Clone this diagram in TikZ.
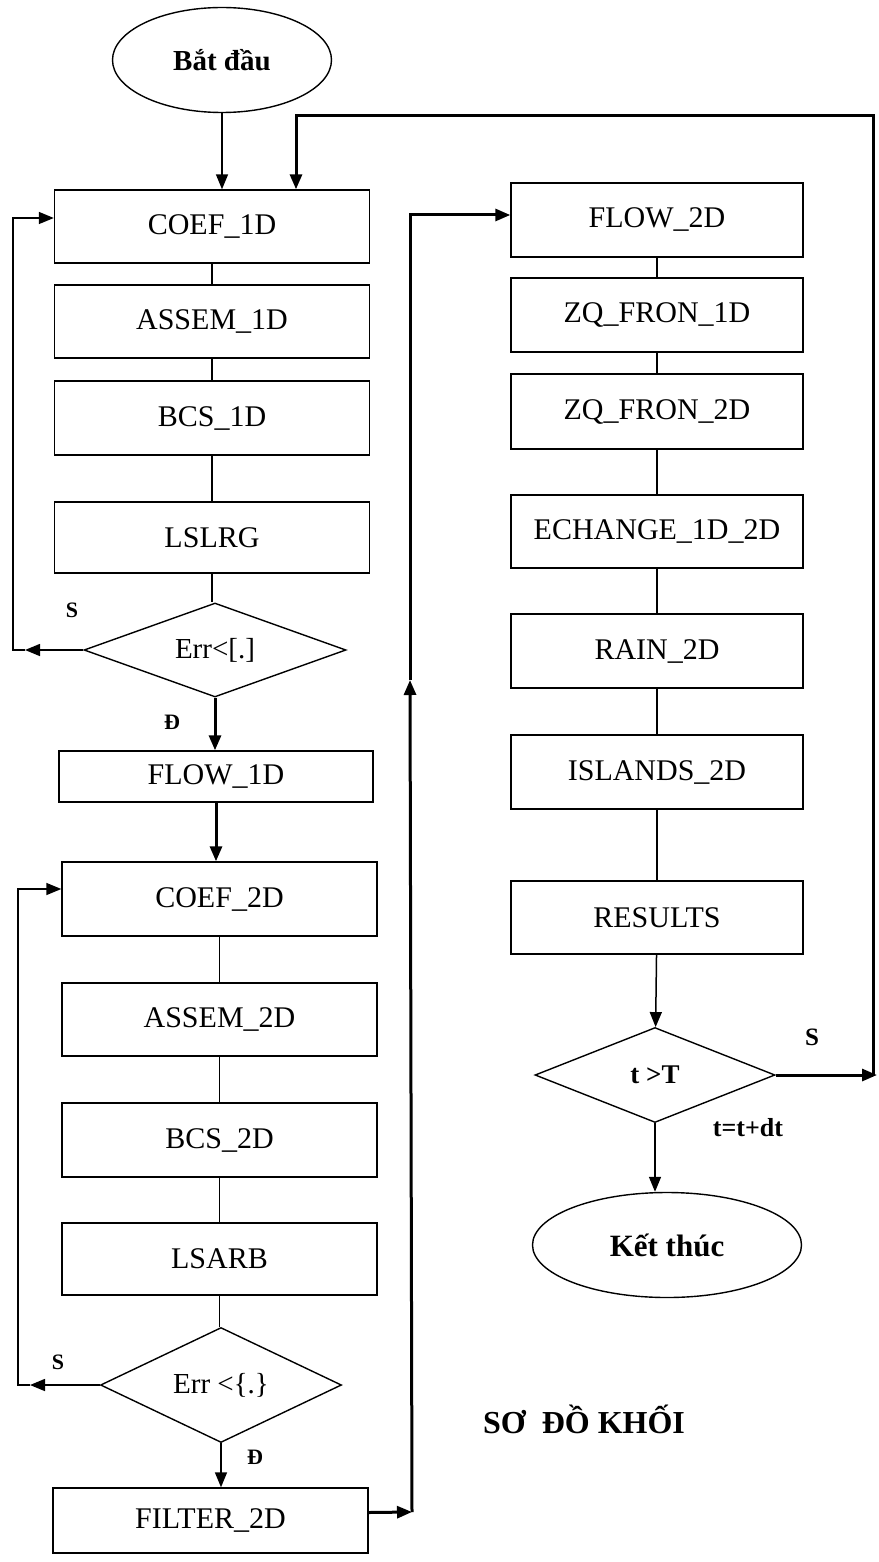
\documentclass[tikz,border=0pt]{standalone}
\usepackage{fontspec}
\setmainfont{Liberation Serif}
\usetikzlibrary{positioning,calc,shapes.geometric,arrows.meta}

\begin{document}
\begin{tikzpicture}[x=1pt,y=-1pt]
\tikzstyle{hop}=[draw,line width=1.4pt,minimum width=315pt,minimum height=73pt,inner sep=0pt,font=\fontsize{30}{36}\selectfont]
\tikzstyle{hopp}=[hop,minimum width=292pt]
\tikzstyle{thoi}=[draw,diamond,line width=1.4pt,inner sep=0pt,font=\fontsize{29}{34}\selectfont]
\tikzstyle{bd}=[draw,ellipse,line width=1.4pt,inner sep=0pt,font=\bfseries\fontsize{29}{34}\selectfont]
\tikzstyle{nhan}=[inner sep=0pt,font=\bfseries\fontsize{22}{26}\selectfont]
\tikzstyle{mui}=[-{Triangle[length=15pt,width=12pt]},line width=1.5pt]
\tikzstyle{muid}=[mui,line width=3pt]

   \useasboundingbox (0,0) rectangle (878,1562);

   % cot trai
   \path (222,60) node[bd,minimum width=219pt,minimum height=105pt] (batdau) {Bắt đầu}
    (212,226.5) node[hop] (coef1) {COEF\_1D}
    (212,321.5) node[hop] (assem1) {ASSEM\_1D}
    (212,418) node[hop,minimum height=74pt] (bcs1) {BCS\_1D}
    (212,537.5) node[hop,minimum height=71pt] (lslrg) {LSLRG}
    (215,650) node[thoi,aspect=2.8,minimum width=262pt,minimum height=94pt] (err1) {Err<[.]}
    (216,776.5) node[hop,minimum width=314pt,minimum height=51pt] (flow1) {FLOW\_1D}
    (219.5,899) node[hop,minimum height=74pt] (coef2) {COEF\_2D}
    (219.5,1019.5) node[hop] (assem2) {ASSEM\_2D}
    (219.5,1140) node[hop,minimum height=74pt] (bcs2) {BCS\_2D}
    (219.5,1259) node[hop,minimum height=72pt] (lsarb) {LSARB}
    (221,1385) node[thoi,aspect=2,minimum width=241pt,minimum height=115pt] (err2) {Err <\{.\}}
    (210.5,1520.5) node[hop,minimum height=65pt] (filter) {FILTER\_2D};

   % cot phai
   \path (657,220) node[hopp,minimum height=74pt] (flow2) {FLOW\_2D}
    (657,315) node[hopp,minimum height=74pt] (zq1) {ZQ\_FRON\_1D}
    (657,411.5) node[hopp,minimum height=75pt] (zq2) {ZQ\_FRON\_2D}
    (657,531.5) node[hopp] (echange) {ECHANGE\_1D\_2D}
    (657,651) node[hopp,minimum height=74pt] (rain) {RAIN\_2D}
    (657,772) node[hopp,minimum height=74pt] (islands) {ISLANDS\_2D}
    (657,917.5) node[hopp] (results) {RESULTS}
    (655,1075) node[thoi,aspect=2.5,minimum width=240pt,minimum height=95pt,font=\bfseries\fontsize{27}{32}\selectfont] (tT) {t >T}
    (667,1245) node[bd,minimum width=269pt,minimum height=105pt,font=\bfseries\fontsize{31}{36}\selectfont] (ketthuc) {Kết thúc};

   % nhan
   \node[nhan] (s1) at (72,610) {S};
   \node[nhan] (d1) at (172,722) {Đ};
   \node[nhan] (s2) at (58,1362) {S};
   \node[nhan] (d2) at (255,1457) {Đ};
   \node[nhan,font=\bfseries\fontsize{25}{30}\selectfont] (s3) at (812,1037) {S};
   \node[nhan,font=\bfseries\fontsize{26}{30}\selectfont] (dt) at (748,1128) {t=t+dt};
   \node[nhan,font=\bfseries\fontsize{32}{38}\selectfont] (tieude) at (584,1419) {SƠ\ \ ĐỒ KHỐI};

   % noi cac khoi
   \draw[line width=1.4pt] (coef1) -- (assem1) (assem1) -- (bcs1) (bcs1) -- (lslrg)
     (lslrg.south) -- (lslrg.south |- err1.north);
   \draw[line width=1.4pt] (coef2) -- (assem2) (assem2) -- (bcs2) (bcs2) -- (lsarb)
     (lsarb.south) -- (lsarb.south |- err2.north);
   \draw[line width=1.4pt] (flow2) -- (zq1) (zq1) -- (zq2) (zq2) -- (echange)
     (echange) -- (rain) (rain) -- (islands) (islands) -- (results);

   \draw[mui] (batdau) -- (batdau |- coef1.north);
   \draw[muid] (err1.south) -- (err1.south |- flow1.north);
   \draw[muid] (flow1.south) -- (flow1.south |- coef2.north);
   \draw[mui] (err2.south) -- (err2.south |- filter.north);
   \draw[mui] (results) -- (tT);
   \draw[mui] (tT.south) -- (tT.south |- ketthuc.north);

   % vong lap
   \coordinate (g1) at (13,650);
   \coordinate (g2) at (18,1385);
   \draw[mui] (err1.west) -- ([xshift=12pt]g1);
   \draw[mui] ([xshift=12pt]g1) -- (g1) |- ([yshift=8.5pt]coef1.west);
   \draw[mui] (err2.west) -- ([xshift=12pt]g2);
   \draw[mui] ([xshift=12pt]g2) -- (g2) |- ([yshift=10pt]coef2.west);

   \coordinate (p0) at (877,1075);
   \coordinate (p1) at (873,1075);
   \coordinate (p2) at (873,116);
   \coordinate (p3) at (296,116);
   \draw[muid] (tT.east) -- (p0);
   \draw[muid] (p1) -- (p2) -- (p3) -- (p3 |- coef1.north);

   \coordinate (q1) at (412,1512);
   \coordinate (q2) at (410,680);
   \coordinate (q3) at (410,215);
   \draw[muid] ([yshift=8pt]filter.east) -- (q1);
   \draw[muid] (q1) -- (q2);
   \draw[muid] (q2) -- (q3) -- ([yshift=5pt]flow2.west);
\end{tikzpicture}
\end{document}
